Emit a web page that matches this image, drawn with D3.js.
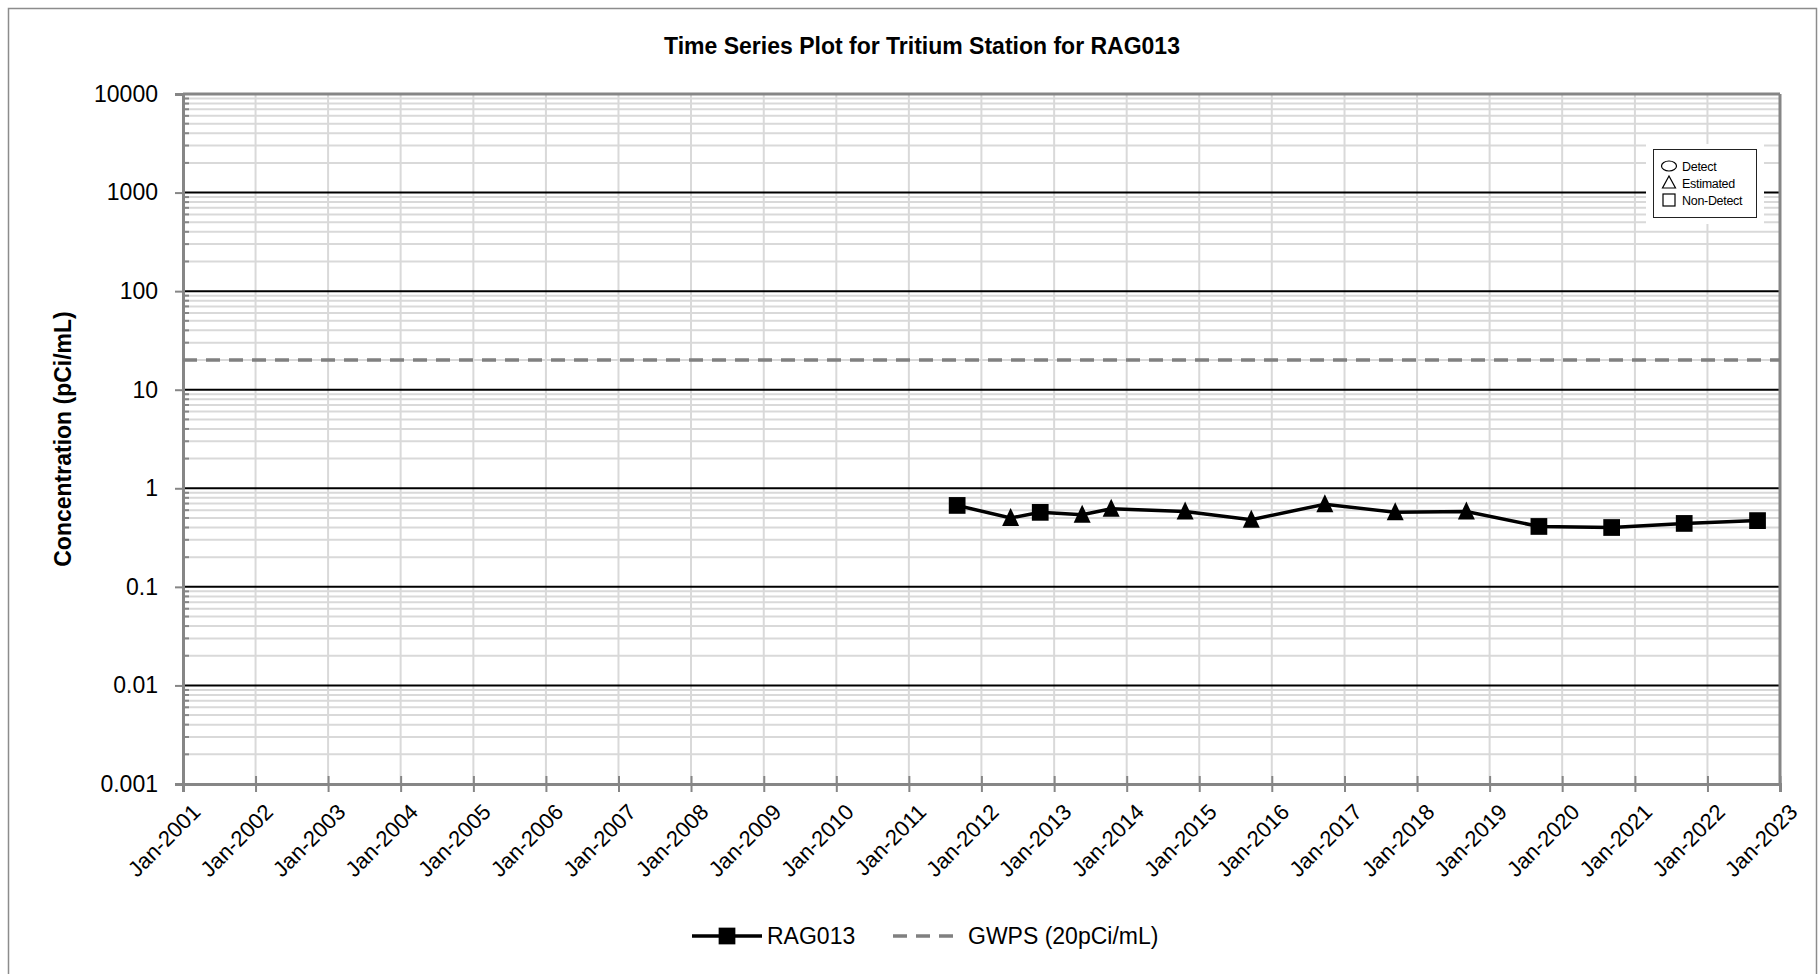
<!DOCTYPE html>
<html>
<head>
<meta charset="utf-8">
<script src="https://cdn.jsdelivr.net/npm/d3@7"></script>
<style>
  html, body { margin: 0; padding: 0; background: #fff; }
  svg { display: block; }
  text { font-family: "Liberation Sans", Arial, sans-serif; }
</style>
</head>
<body>
<svg id="chart" width="1818" height="974"></svg>
<script>
// ---- Data ----
const sampleDates = ["2011-09-01","2012-05-27","2012-10-23","2013-05-22","2013-10-15","2014-10-22",
  "2015-09-20","2016-09-24","2017-09-13","2018-09-06","2019-09-06","2020-09-06","2021-09-06","2022-09-10"];
const concentrations = [0.67, 0.50, 0.57, 0.54, 0.62, 0.58, 0.48, 0.69, 0.57, 0.58, 0.41, 0.40, 0.44, 0.47];
const qualifiers = ["Non-Detect","Estimated","Non-Detect","Estimated","Estimated","Estimated","Estimated",
  "Estimated","Estimated","Estimated","Non-Detect","Non-Detect","Non-Detect","Non-Detect"];
const gwpsValue = 20;
const yTickLabels = ["0.001","0.01","0.1","1","10","100","1000","10000"];
const xDomain = ["2001-01-01","2023-01-01"];
const seriesNames = ["RAG013","GWPS (20pCi/mL)"];
const qualifierLegend = ["Detect","Estimated","Non-Detect"];
const titleText = "Time Series Plot for Tritium Station for RAG013";
const yTitleText = "Concentration (pCi/mL)";

// ---- Layout ----
const svg = d3.select("#chart");
const L = 183, R = 1780, T = 94, B = 784;
const parse = d3.timeParse("%Y-%m-%d");
const x = d3.scaleTime().domain(xDomain.map(parse)).range([L, R]);
const y = d3.scaleLog().domain([0.001, 10000]).range([B, T]);
const axisGray = "#868686", gridGray = "#d9d9d9";

// outer border
svg.append("rect").attr("x", 8.5).attr("y", 8.5).attr("width", 1808).attr("height", 975)
  .attr("fill", "#fff").attr("stroke", "#8c8c8c").attr("stroke-width", 1.5);

// title
svg.append("text").attr("x", 922).attr("y", 54).attr("text-anchor", "middle")
  .attr("font-size", 23).attr("font-weight", "bold").text(titleText);

// minor horizontal grid
const minorVals = [];
for (let e = -3; e < 4; e++) for (let m = 2; m <= 9; m++) minorVals.push(m * Math.pow(10, e));
svg.append("g").selectAll("line").data(minorVals).join("line")
  .attr("x1", L).attr("x2", R).attr("y1", d => y(d)).attr("y2", d => y(d))
  .attr("stroke", gridGray).attr("stroke-width", 2);

// vertical grid
const yearTicks = x.ticks(d3.timeYear.every(1));
svg.append("g").selectAll("line").data(yearTicks).join("line")
  .attr("x1", d => x(d)).attr("x2", d => x(d)).attr("y1", T).attr("y2", B)
  .attr("stroke", gridGray).attr("stroke-width", 2);

// major horizontal grid
const majorVals = yTickLabels.map(Number);
svg.append("g").selectAll("line").data(majorVals.slice(1, -1)).join("line")
  .attr("x1", L).attr("x2", R).attr("y1", d => y(d)).attr("y2", d => y(d))
  .attr("stroke", "#000").attr("stroke-width", 2);

// plot border top / right
svg.append("line").attr("x1", L).attr("x2", R).attr("y1", T).attr("y2", T).attr("stroke", axisGray).attr("stroke-width", 3);
svg.append("line").attr("x1", R).attr("x2", R).attr("y1", T).attr("y2", B).attr("stroke", axisGray).attr("stroke-width", 3);

// y axis (major ticks outward)
const yAxis = d3.axisLeft(y).tickValues(majorVals).tickFormat((d, i) => yTickLabels[i]).tickSize(8).tickPadding(17);
const gy = svg.append("g").attr("transform", `translate(${L},0)`).call(yAxis);
gy.select(".domain").attr("stroke", axisGray).attr("stroke-width", 3);
gy.selectAll(".tick line").attr("stroke", axisGray).attr("stroke-width", 2);
gy.selectAll(".tick text").attr("font-size", 23).attr("fill", "#000")
  .attr("font-family", "'Liberation Sans', Arial, sans-serif");
// minor ticks inward
svg.append("g").selectAll("line").data(minorVals).join("line")
  .attr("x1", L).attr("x2", L + 6).attr("y1", d => y(d)).attr("y2", d => y(d))
  .attr("stroke", axisGray).attr("stroke-width", 2);

// x axis
const xAxis = d3.axisBottom(x).tickValues(yearTicks).tickFormat(d3.timeFormat("%b-%Y")).tickSize(8).tickPadding(6);
const gx = svg.append("g").attr("transform", `translate(0,${B})`).call(xAxis);
gx.select(".domain").attr("stroke", axisGray).attr("stroke-width", 3);
gx.selectAll(".tick line").attr("y1", -8).attr("stroke", axisGray).attr("stroke-width", 2);
gx.selectAll(".tick text").attr("font-size", 22).attr("fill", "#000")
  .attr("font-family", "'Liberation Sans', Arial, sans-serif")
  .attr("text-anchor", "end").attr("dy", "0.35em")
  .attr("transform", "translate(3,14) rotate(-45)");

// y title
svg.append("text").attr("transform", `translate(71,${(T + B) / 2}) rotate(-90)`)
  .attr("text-anchor", "middle").attr("font-size", 23).attr("font-weight", "bold").text(yTitleText);

// GWPS line
svg.append("line").attr("x1", L).attr("x2", R).attr("y1", y(gwpsValue)).attr("y2", y(gwpsValue))
  .attr("stroke", "#808080").attr("stroke-width", 3.5).attr("stroke-dasharray", "14,9");

// series
const data = sampleDates.map((d, i) => ({ date: parse(d), v: concentrations[i], q: qualifiers[i] }));
svg.append("path").datum(data)
  .attr("d", d3.line().x(d => x(d.date)).y(d => y(d.v)))
  .attr("fill", "none").attr("stroke", "#000").attr("stroke-width", 3.5);
const triPath = "M0,-10 L8.5,8 L-8.5,8 Z";
const symFor = q => q === "Estimated" ? triPath :
  q === "Detect" ? d3.symbol(d3.symbolCircle, 200)() : d3.symbol(d3.symbolSquare, 280)();
svg.append("g").selectAll("path").data(data).join("path")
  .attr("transform", d => `translate(${x(d.date)},${y(d.v)})`)
  .attr("d", d => symFor(d.q)).attr("fill", "#000");

// qualifier legend (inside plot)
const ql = svg.append("g");
ql.append("rect").attr("x", 1646).attr("y", 144).attr("width", 118).attr("height", 80).attr("fill", "#fff");
ql.append("rect").attr("x", 1653.5).attr("y", 149.5).attr("width", 103).attr("height", 68)
  .attr("fill", "#fff").attr("stroke", "#222").attr("stroke-width", 1);
const qlY = [166, 183, 200];
ql.append("ellipse").attr("cx", 1669).attr("cy", qlY[0]).attr("rx", 7.5).attr("ry", 5)
  .attr("fill", "none").attr("stroke", "#000").attr("stroke-width", 1.2);
ql.append("path").attr("d", `M1669,${qlY[1] - 7} L1675.5,${qlY[1] + 5} L1662.5,${qlY[1] + 5} Z`)
  .attr("fill", "none").attr("stroke", "#000").attr("stroke-width", 1.2);
ql.append("rect").attr("x", 1663).attr("y", qlY[2] - 6).attr("width", 12).attr("height", 12)
  .attr("fill", "none").attr("stroke", "#000").attr("stroke-width", 1.2);
ql.selectAll("text").data(qualifierLegend).join("text")
  .attr("x", 1682).attr("y", (d, i) => qlY[i] + 4.5).attr("font-size", 12.5).attr("letter-spacing", -0.3).text(d => d);

// bottom legend
const lg = svg.append("g");
const ly = 936;
lg.append("line").attr("x1", 692).attr("x2", 762).attr("y1", ly).attr("y2", ly).attr("stroke", "#000").attr("stroke-width", 3.5);
lg.append("path").attr("transform", `translate(727,${ly})`).attr("d", d3.symbol(d3.symbolSquare, 280)()).attr("fill", "#000");
lg.append("text").attr("x", 767).attr("y", ly + 8).attr("font-size", 23).text(seriesNames[0]);
lg.append("line").attr("x1", 893).attr("x2", 962).attr("y1", ly).attr("y2", ly).attr("stroke", "#808080")
  .attr("stroke-width", 3.5).attr("stroke-dasharray", "14,9");
lg.append("text").attr("x", 968).attr("y", ly + 8).attr("font-size", 23).text(seriesNames[1]);
</script>
</body>
</html>
